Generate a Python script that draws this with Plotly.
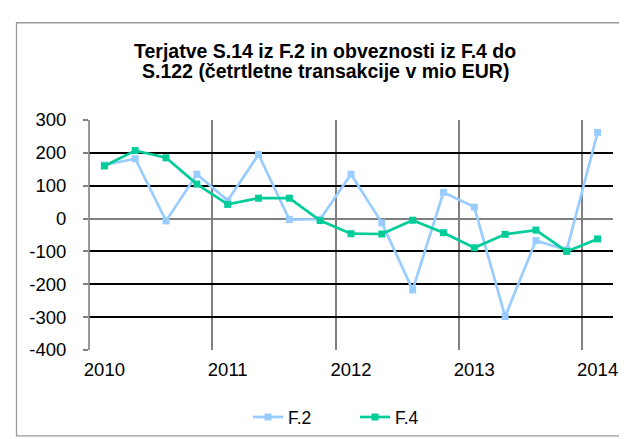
import plotly.graph_objects as go

quarters = ["2010Q1", "2010Q2", "2010Q3", "2010Q4",
            "2011Q1", "2011Q2", "2011Q3", "2011Q4",
            "2012Q1", "2012Q2", "2012Q3", "2012Q4",
            "2013Q1", "2013Q2", "2013Q3", "2013Q4",
            "2014Q1"]
f2_values = [163, 182, -7, 135, 55, 195, -3, -2, 135, -13, -217, 80, 35, -298, -67, -95, 262]
f4_values = [160, 207, 185, 105, 43, 62, 62, -6, -46, -47, -5, -43, -89, -48, -35, -100, -62]
year_labels = ["2010", "2011", "2012", "2013", "2014"]
y_tick_values = [300, 200, 100, 0, -100, -200, -300, -400]
y_tick_labels = ["300", "200", "100", "0", "-100", "-200", "-300", "-400"]

x_idx = list(range(len(quarters)))
year_tick_idx = [i for i, q in enumerate(quarters) if q.endswith("Q1")]

BLUE = "#99CCFF"
GREEN = "#00CC99"
FONT = "Liberation Sans, Arial, sans-serif"

fig = go.Figure()
fig.add_trace(go.Scatter(
    x=x_idx, y=f2_values, name="F.2", mode="lines+markers",
    line=dict(color=BLUE, width=2.7),
    marker=dict(symbol="square", size=7, color=BLUE),
    customdata=quarters,
))
fig.add_trace(go.Scatter(
    x=x_idx, y=f4_values, name="F.4", mode="lines+markers",
    line=dict(color=GREEN, width=2.7),
    marker=dict(symbol="square", size=7, color=GREEN),
    customdata=quarters,
))

W, H = 627, 439
ml, mr, mt, mb = 81, 22, 112, 94
pw, ph = W - ml - mr, H - mt - mb


def px_x(px):
    return (px - ml) / pw


def px_y(py):
    return (H - mb - py) / ph


fig.update_layout(
    width=W, height=H,
    margin=dict(l=ml, r=mr, t=mt, b=mb, pad=0),
    paper_bgcolor="white", plot_bgcolor="white",
    font=dict(family=FONT, size=18, color="black"),
    showlegend=True,
    legend=dict(orientation="h", x=px_x(240), y=px_y(413), xanchor="left", yanchor="middle",
                font=dict(size=17.5), itemwidth=30, entrywidth=62, entrywidthmode="pixels",
                bgcolor="rgba(0,0,0,0)", traceorder="normal"),
    xaxis=dict(
        range=[-0.5, len(quarters) - 0.5],
        tickmode="array", tickvals=year_tick_idx, ticktext=year_labels,
        showgrid=False, zeroline=False, showline=False,
        ticks="outside", ticklen=3, tickcolor="rgba(0,0,0,0)",
        tickfont=dict(size=18.5),
        minor=dict(tickmode="linear", tick0=-0.5, dtick=4, showgrid=True,
                   gridcolor="#808080", gridwidth=1.6, ticks=""),
    ),
    yaxis=dict(
        range=[-400, 300],
        tickmode="array", tickvals=y_tick_values, ticktext=y_tick_labels,
        showgrid=True, gridcolor="black", gridwidth=1.6,
        zeroline=True, zerolinecolor="#808080", zerolinewidth=1.6,
        showline=False,
        ticks="outside", ticklen=5, tickcolor="#808080", tickwidth=1.5,
        ticklabelstandoff=13,
        tickfont=dict(size=18.5),
    ),
    shapes=[
        dict(type="line", xref="paper", yref="paper", x0=0, x1=0, y0=0, y1=1,
             line=dict(color="#808080", width=1.6), layer="above"),
        dict(type="rect", xref="paper", yref="paper",
             x0=px_x(8.5), x1=px_x(619), y0=px_y(432), y1=px_y(13.5),
             line=dict(color="#9a9a9a", width=1.3), fillcolor="rgba(0,0,0,0)", layer="below"),
    ],
    annotations=[
        dict(text="<b>Terjatve S.14 iz F.2 in obveznosti iz F.4 do</b>", xref="paper", yref="paper",
             x=px_x(317), y=px_y(42), xanchor="center", yanchor="middle", showarrow=False,
             font=dict(size=19.5)),
        dict(text="<b>S.122 (četrtletne transakcije v mio EUR)</b>", xref="paper", yref="paper",
             x=px_x(317), y=px_y(62), xanchor="center", yanchor="middle", showarrow=False,
             font=dict(size=19.5)),
    ],
)

fig.write_html("out.html")
